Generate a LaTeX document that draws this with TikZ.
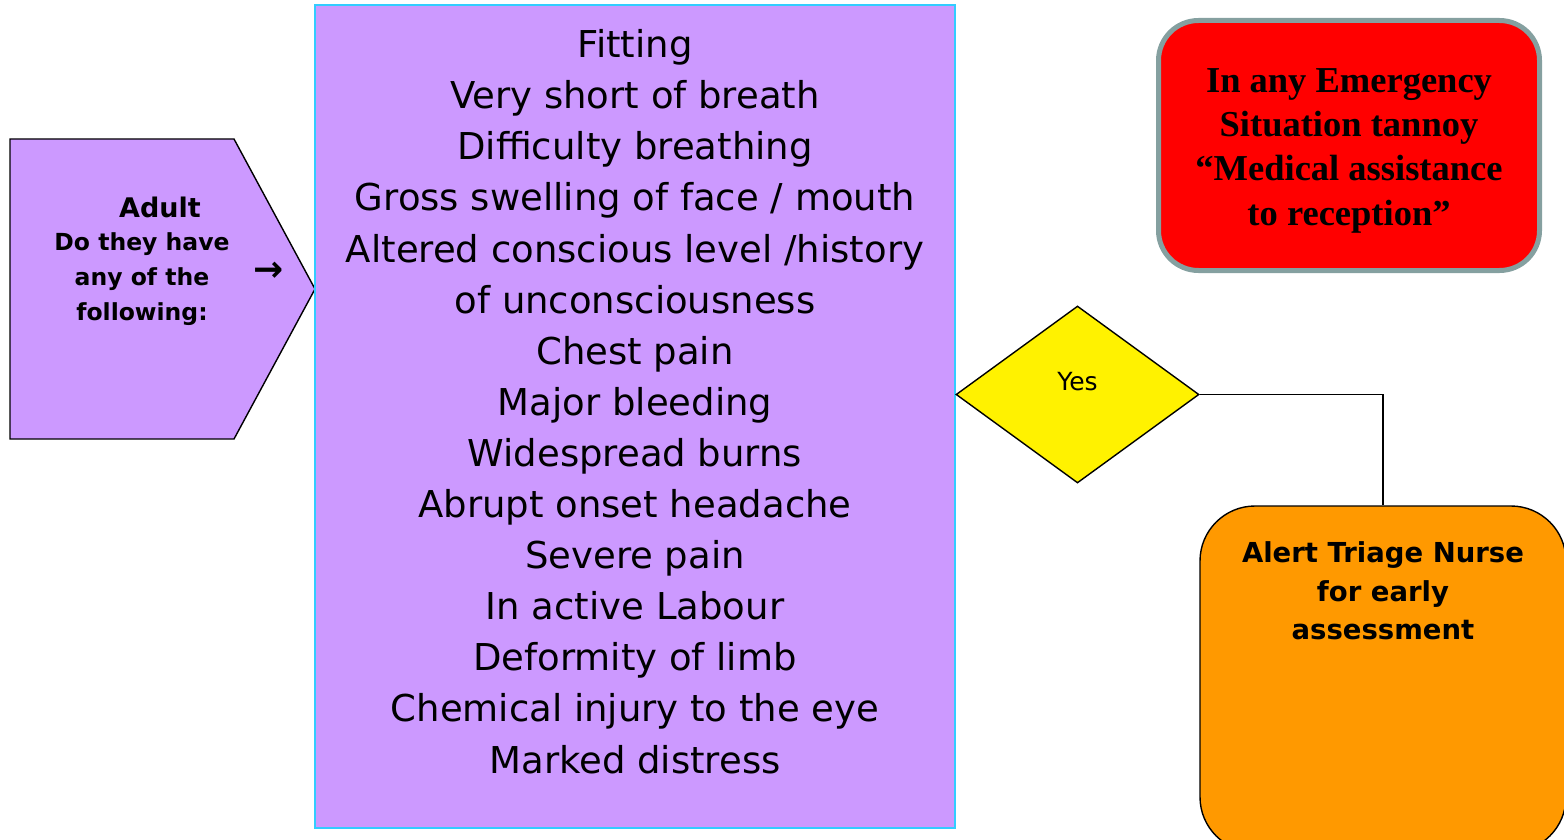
\documentclass[tikz,border=0pt]{standalone}
\usepackage{fontspec}
\usetikzlibrary{shapes.geometric}
\newfontfamily\tahfont{DejaVu Sans}
\newfontfamily\serfont{Liberation Serif}
\definecolor{lilac}{HTML}{CC99FF}
\definecolor{cyanb}{HTML}{33CCFF}
\definecolor{orng}{HTML}{FF9900}
\definecolor{grayb}{RGB}{133,160,160}
\tikzset{
  outl/.style={draw=black, line width=1.4pt},
  listtext/.style={font=\tahfont\fontsize{37}{51.1}\selectfont, align=center, inner sep=0pt},
  lefttext/.style={font=\tahfont\bfseries\fontsize{23.5}{35}\selectfont, align=center, inner sep=0pt},
}
\begin{document}
\begin{tikzpicture}[x=1pt,y=-1pt]
\useasboundingbox (0,0) rectangle (1564,840);
% left pentagon
\draw[outl, fill=lilac] (10,139) -- (234,139) -- (315,289) -- (234,439) -- (10,439) -- cycle;
\coordinate (tip) at (315,289);
\node[font=\tahfont\bfseries\fontsize{27}{32}\selectfont, inner sep=0pt] (adult) at (160,207) {Adult};
\node[lefttext] (ask) at (142,279) {Do they have\\any of the\\following:};
\node[font=\tahfont\bfseries\fontsize{36}{40}\selectfont, inner sep=0pt] (arr) at (269,272) {→};
% purple list box
\node[fill=lilac, draw=cyanb, line width=1.3pt, minimum width=640pt, minimum height=823pt, inner sep=0pt] (list) at (635,416.5) {};
\node[listtext] (items) at (635,401.5) {Fitting\\Very short of breath\\Difficulty breathing\\Gross swelling of face / mouth\\Altered conscious level /history\\of unconsciousness\\Chest pain\\Major bleeding\\Widespread burns\\Abrupt onset headache\\Severe pain\\In active Labour\\Deformity of limb\\Chemical injury to the eye\\Marked distress};
% diamond
\node[diamond, outl, fill=yellow, minimum width=243pt, minimum height=177pt, inner sep=0pt,
  label={[font=\tahfont\fontsize{25}{30}\selectfont, yshift=13pt]center:Yes}] (dia) at (1077.5,394.5) {};
% red box
\node[draw=grayb, line width=5pt, fill=red, rounded corners=40pt, minimum width=381pt, minimum height=250pt, inner sep=0pt] (red) at (1349,145.5) {};
\node[font=\serfont\bfseries\fontsize{36.5}{44.3}\selectfont, align=center, inner sep=0pt] (redtext) at (1349,150.5)
  {In any Emergency\\Situation tannoy\\“Medical assistance\\to reception”};
% orange box
\node[outl, fill=orng, rounded corners=55pt, minimum width=366pt, minimum height=346pt, inner sep=0pt] (nurse) at (1383,679) {};
\node[font=\tahfont\bfseries\fontsize{27.5}{38.5}\selectfont, align=center, inner sep=0pt] (nursetext) at (1383,591) {Alert Triage Nurse\\for early\\assessment};
% connector
\draw[black, line width=1.4pt] (dia.east) -| (nurse.north);
\end{tikzpicture}
\end{document}
